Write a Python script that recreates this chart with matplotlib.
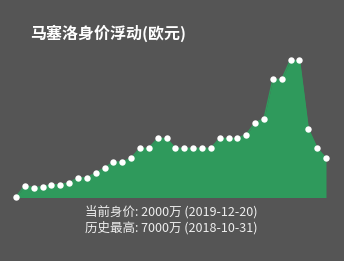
import matplotlib
matplotlib.use("Agg")
import matplotlib.pyplot as plt
import numpy as np

plt.rcParams['font.family'] = ['Noto Sans CJK SC', 'DejaVu Sans']

title = "马塞洛身价浮动(欧元)"
line1 = "当前身价: 2000万 (2019-12-20)"
line2 = "历史最高: 7000万 (2018-10-31)"
# market values in 万欧元
values = [25, 600, 500, 550, 650, 650, 750, 1000, 1000, 1250, 1500, 1800, 1800,
          2000, 2500, 2500, 3000, 3000, 2500, 2500, 2500, 2500, 2500, 3000, 3000,
          3000, 3200, 3800, 4000, 6000, 6000, 7000, 7000, 3500, 2500, 2000]

W, H = 344, 261
bg = "#555555"
green = "#2f9a5c"

fig = plt.figure(figsize=(W/100, H/100), dpi=100, facecolor=bg)
x = np.arange(len(values))
left_px, right_px = 16, 326
zero_px, max_px = 197.5, 59.7
ax = fig.add_axes([left_px/W, (H-zero_px)/H, (right_px-left_px)/W, (zero_px-max_px)/H])
ax.set_facecolor("none")
ax.fill_between(x, values, 0, color=green, linewidth=0)
ax.plot(x, values, color=green, linewidth=1)
ax.plot(x, values, 'o', color="white", markersize=4.6, markeredgewidth=0, clip_on=False)
ax.set_xlim(0, len(values)-1)
ax.set_ylim(0, max(values))
ax.axis('off')

fig.text(30/W, 1-33/H, title, color="white", fontsize=11.5, fontweight='bold', va='center', ha='left')
fig.text(171/W, 1-212/H, line1, color="#eeeeee", fontsize=9, va='center', ha='center')
fig.text(171/W, 1-228/H, line2, color="#eeeeee", fontsize=9, va='center', ha='center')

fig.savefig("out.png", dpi=100, facecolor=bg)
